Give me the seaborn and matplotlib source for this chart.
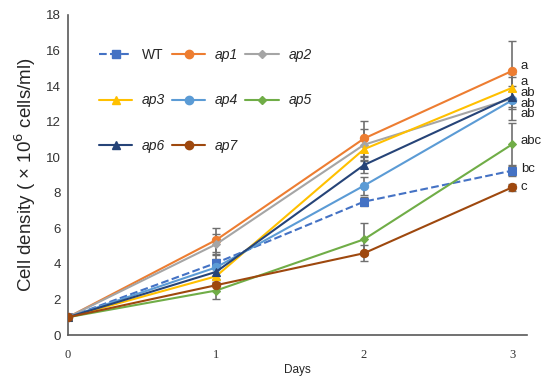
import matplotlib
matplotlib.use("Agg")
import matplotlib.pyplot as plt
import seaborn as sns
import pandas as pd
import numpy as np

days = [0, 1, 2, 3]
strains = ["WT", "ap1", "ap2", "ap3", "ap4", "ap5", "ap6", "ap7"]
wt = [1.0, 4.05, 7.5, 9.24]
ap1 = [1.0, 5.34, 11.05, 14.85]
ap2 = [1.0, 5.1, 10.7, 13.3]
ap3 = [1.0, 3.3, 10.45, 13.9]
ap4 = [1.0, 3.8, 8.4, 13.2]
ap5 = [1.0, 2.5, 5.38, 10.72]
ap6 = [1.0, 3.55, 9.56, 13.4]
ap7 = [1.0, 2.8, 4.6, 8.3]
wt_err = [0.05, 0.5, 0.25, 0.3]
ap1_err = [0.05, 0.65, 1.0, 1.7]
ap2_err = [0.05, 0.6, 0.9, 1.2]
ap3_err = [0.05, 0.4, 0.6, 0.8]
ap4_err = [0.05, 0.5, 0.5, 0.5]
ap5_err = [0.05, 0.5, 0.9, 1.2]
ap6_err = [0.05, 0.4, 0.45, 0.6]
ap7_err = [0.05, 0.3, 0.45, 0.2]
sig_labels = ["a", "a", "ab", "ab", "ab", "abc", "bc", "c"]
sig_y = [15.15, 14.25, 13.6, 13.0, 12.4, 10.9, 9.35, 8.3]

values = [wt, ap1, ap2, ap3, ap4, ap5, ap6, ap7]
errors = [wt_err, ap1_err, ap2_err, ap3_err, ap4_err, ap5_err, ap6_err, ap7_err]
colors = ["#4472C4", "#ED7D31", "#A5A5A5", "#FFC000", "#5B9BD5", "#70AD47", "#264478", "#9E480E"]
markers = ["s", "o", "D", "^", "o", "D", "^", "o"]
msizes = [6, 6, 4, 6, 6, 4, 6, 6]

rows = []
for s, v in zip(strains, values):
    for d, y in zip(days, v):
        rows.append({"Days": d, "density": y, "strain": s})
df = pd.DataFrame(rows)

sns.set_style("white")
plt.rcParams['font.family'] = ['Liberation Sans', 'DejaVu Sans']

fig = plt.figure(figsize=(5.5, 3.82), dpi=100)
ax = fig.add_axes([0.1236, 0.123, 0.8344, 0.838])

for v, e in zip(values, errors):
    ax.errorbar(days, v, yerr=e, fmt="none", ecolor="#6f6f6f", elinewidth=1.2,
                capsize=3, capthick=1.0, zorder=1)

handles = []
for s, v, c, m, ms in zip(strains, values, colors, markers, msizes):
    sub = df[df["strain"] == s]
    sns.lineplot(data=sub, x="Days", y="density", ax=ax, color=c, marker=m,
                 markersize=ms, markeredgecolor=c, linewidth=1.5,
                 linestyle="--" if s == "WT" else "-", legend=False, zorder=3)
    h, = ax.plot([], [], color=c, marker=m, markersize=ms, markeredgecolor=c,
                 linewidth=1.5, linestyle="--" if s == "WT" else "-")
    handles.append(h)

for lab, yy in zip(sig_labels, sig_y):
    ax.text(3.06, yy, lab, fontsize=9.5, va="center", ha="left", color="#222222")

ax.set_xlim(0, 3.1)
ax.set_ylim(0, 18)
ax.set_xticks(days)
ax.set_xticklabels([str(d) for d in days], fontfamily="Liberation Serif", fontsize=9)
ax.set_yticks(np.arange(0, 19, 2))
ax.tick_params(axis="y", labelsize=9.5, direction="in", length=3, colors="#333333", pad=5)
ax.tick_params(axis="x", direction="in", length=3, colors="#333333", pad=10)
for sp in ["top", "right"]:
    ax.spines[sp].set_visible(False)
for sp in ["left", "bottom"]:
    ax.spines[sp].set_color("#595959")
    ax.spines[sp].set_linewidth(1.2)

ax.set_xlabel("Days", fontsize=8.5, labelpad=2)
ax.set_ylabel("Cell density ( × 10$^{6}$ cells/ml)", fontsize=13.5, labelpad=6)

labels = strains
order = [0, 3, 6, 1, 4, 7, 2, 5]
leg = ax.legend([handles[i] for i in order], [labels[i] for i in order], ncol=3,
                loc="upper left", bbox_to_anchor=(0.04, 0.935), frameon=False,
                fontsize=10, handlelength=2.4, handletextpad=0.7,
                columnspacing=0.5, labelspacing=2.25)
for t in leg.get_texts():
    if t.get_text() != "WT":
        t.set_fontstyle("italic")

fig.savefig("out.png", dpi=100)
